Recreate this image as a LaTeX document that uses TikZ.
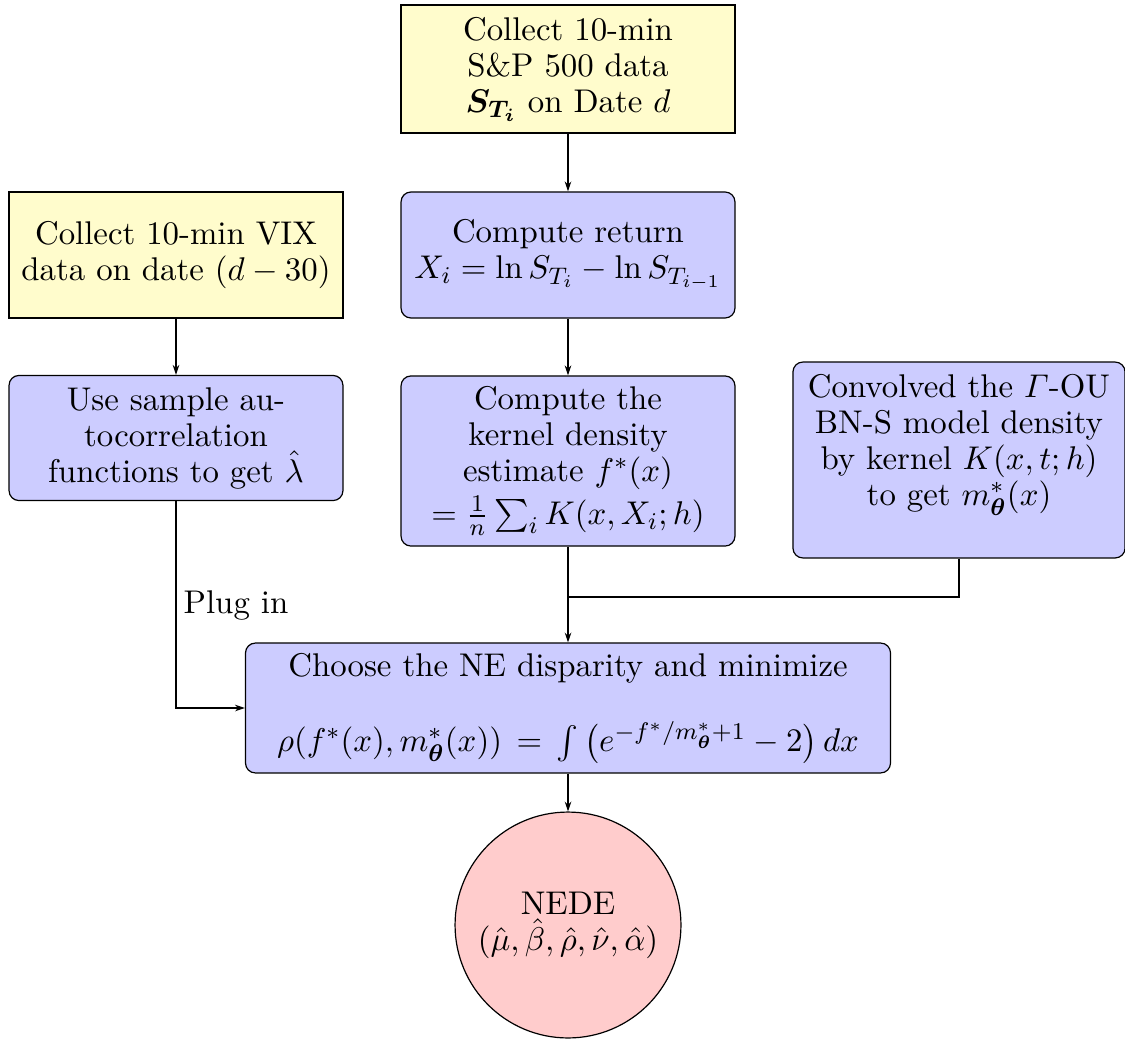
\documentclass[tikz,border=0pt]{standalone}
\usepackage{amsmath,amssymb}
\usetikzlibrary{arrows.meta}
\begin{document}
\begin{tikzpicture}[x=0.33333pt,y=-0.33333pt,
  font=\fontsize{10.95}{12}\selectfont,
  every node/.style={align=center, inner sep=0pt},
  collect/.style={draw, fill=yellow!20, minimum width=111.3pt},
  proc/.style={draw, fill=blue!20, rounded corners=3.3pt, minimum width=111.3pt},
  result/.style={draw, fill=red!20, circle, minimum size=75.3pt},
  flow/.style={-{Stealth[length=3.3pt,width=2.2pt]}, line width=0.4pt}]
\useasboundingbox (0,0) rectangle (1125,1038);

% input data
\node[collect, minimum height=42.7pt] (sp) at (568,69)
  {Collect 10-min\\ S\&P 500 data\\ $\boldsymbol{S_{T_i}}$ on Date $d$};
\node[collect, minimum height=42pt] (vix) at (176,255)
  {Collect 10-min VIX\\ data on date $(d-30)$};

% processing steps
\node[proc, minimum height=42pt] (ret) at (568,255)
  {Compute return\\ $X_i=\ln S_{T_i}-\ln S_{T_{i-1}}$};
\node[proc, minimum height=41.7pt] (acf) at (176,438)
  {Use sample au-\\ tocorrelation\\ functions to get $\hat{\lambda}$};
\node[proc, minimum height=56.7pt] (kde) at (568,461)
  {Compute the\\ kernel density\\ estimate $f^*(x)$\\[1pt] $=\frac{1}{n}\sum_i K(x,X_i;h)$};
\node[proc, minimum width=110.7pt, minimum height=65.3pt] (conv) at (959,460) {};
\node (convtext) at (959,445)
  {Convolved the $\varGamma$-OU\\ BN-S model density\\ by kernel $K(x,t;h)$\\ to get $m^*_{\boldsymbol{\theta}}(x)$};
\node[proc, minimum width=215pt, minimum height=43.3pt] (ne) at (568,708)
  {Choose the NE disparity and minimize\\[12pt]
   $\rho(f^*(x),m^*_{\boldsymbol{\theta}}(x))\,=\,\int\left(e^{-f^*/m^*_{\boldsymbol{\theta}}+1}-2\right)dx$};

% estimate
\node[result] (nede) at (568,925)
  {NEDE\\ $(\hat{\mu},\hat{\beta},\hat{\rho},\hat{\nu},\hat{\alpha})$};

% connectors
\coordinate (join) at (568,597);
\draw[flow] (sp) -- (ret);
\draw[flow] (vix) -- (acf);
\draw[flow] (ret) -- (kde);
\draw[flow] (kde) -- (ne);
\draw (conv.south) |- (join);
\draw[flow] (acf.south) |- (ne.west);
\node (plug) at (236,605) {Plug in};
\draw[flow] (ne) -- (nede);
\end{tikzpicture}
\end{document}
